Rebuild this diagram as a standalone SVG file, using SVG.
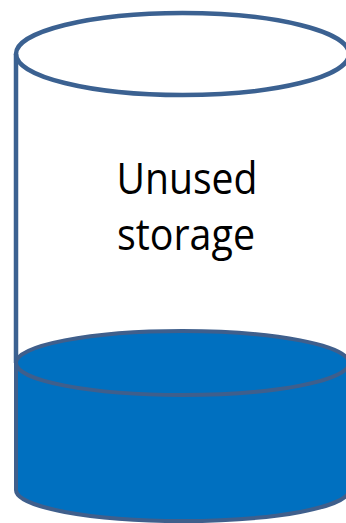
<svg xmlns="http://www.w3.org/2000/svg" width="346" height="523" viewBox="0 0 346 523">
  <style>
    .outline { stroke: #3B6191; stroke-width: 4.5; fill: none; }
    .water { fill: #0070C0; stroke: #3F5F8C; stroke-width: 4; }
    .label { font-family: "Open Sans", "Liberation Sans", sans-serif; font-size: 44px; fill: #000000; text-anchor: middle; }
  </style>
  <g id="cylinder">
    <line class="outline" x1="16" y1="54" x2="16" y2="363"/>
    <ellipse class="outline" cx="182.5" cy="54" rx="166.5" ry="41"/>
  </g>
  <g id="used-storage">
    <path class="water" d="M16,363 L16,490 A166.5,31 0 0 0 349,490 L349,363 Z"/>
    <ellipse class="water" cx="182.5" cy="363" rx="166.5" ry="32"/>
  </g>
  <g id="label">
    <text class="label" x="187" y="194" textLength="141" lengthAdjust="spacingAndGlyphs">Unused</text>
    <text class="label" x="186" y="250" textLength="138" lengthAdjust="spacingAndGlyphs">storage</text>
  </g>
</svg>
